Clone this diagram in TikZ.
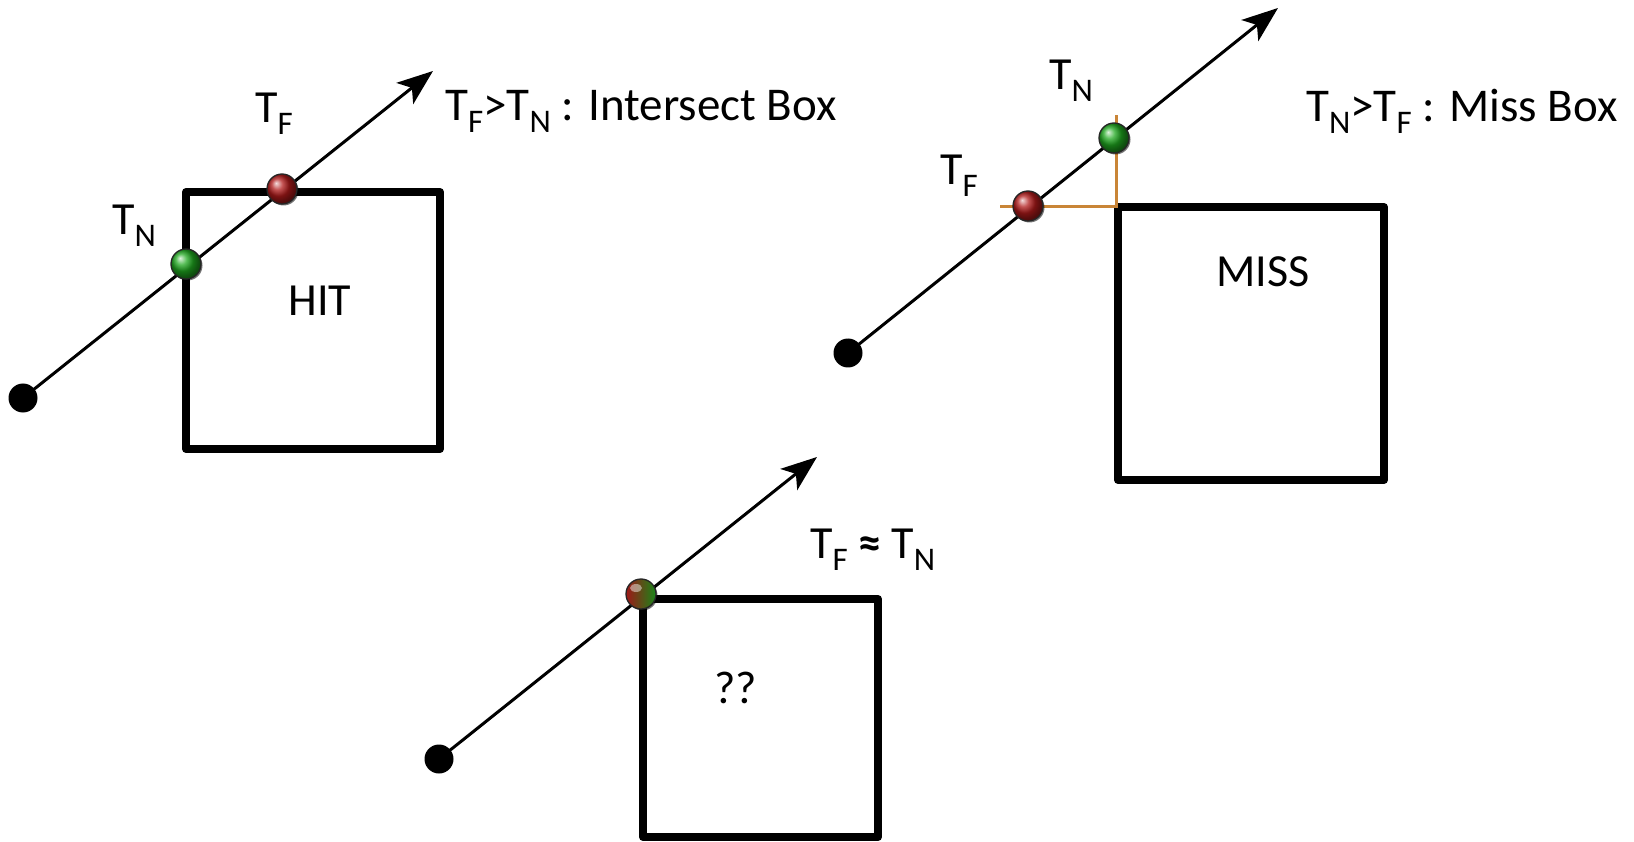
\documentclass[tikz,border=0pt]{standalone}
\usepackage{fontspec}
\setmainfont{Carlito}
\usetikzlibrary{arrows.meta,shadows}
\definecolor{hitred}{HTML}{B01A1A}
\definecolor{hitgreen}{HTML}{1FA81F}
\definecolor{guide}{HTML}{C98537}
\newcommand{\lowsub}[1]{\raisebox{-12pt}{\fontsize{33}{33}\selectfont #1}}
\tikzset{
  box/.style={draw=black, line width=8pt, line join=round},
  ray/.style={line width=3pt, -{Stealth[length=36pt,width=27pt,inset=9pt]}},
  origin/.style={circle, fill=black, inner sep=0pt, minimum size=29pt},
  ballbase/.style={circle, inner sep=0pt, minimum size=30pt, draw=black!85, line width=1.3pt,
     drop shadow={shadow xshift=1.5pt, shadow yshift=-1.5pt, opacity=0.55, fill=black}},
  redball/.style={ballbase, ball color=hitred},
  greenball/.style={ballbase, ball color=hitgreen},
  mixball/.style={ballbase, left color=hitred!90!black, right color=hitgreen!80!black},
  lbl/.style={font=\fontsize{46}{54}\selectfont, inner sep=0pt},
  caption/.style={font=\fontsize{47}{56}\selectfont, inner sep=0pt},
  guideline/.style={draw=guide, line width=3pt},
}
\begin{document}
\begin{tikzpicture}[x=1pt,y=-1pt]
\useasboundingbox (0,0) rectangle (1634,842);

% ---------- case 1: hit ----------
\draw[box] (186,192) rectangle (440,449);
\node[origin] (s1) at (23,398) {};
\coordinate (e1) at (433,71);
\draw[ray] (s1.center) -- (e1);
\node[greenball] (n1) at (186,264) {};
\node[redball] (f1) at (282,189) {};
\node[lbl, anchor=base west] (tf1) at (255,123) {T\lowsub{F}};
\node[lbl, anchor=base west] (tn1) at (112,235) {T\lowsub{N}};
\node[lbl, anchor=base] (hit) at (320,316) {HIT};
\node[caption, anchor=base west] (c1) at (445,121) {T\lowsub{F}>T\lowsub{N} : Intersect Box};

% ---------- case 2: miss ----------
\draw[box] (1118,207) rectangle (1384,480);
\coordinate (g0) at (1000,207);
\coordinate (g1) at (1116,207);
\coordinate (g2) at (1116,115);
\draw[guideline] (g0) -- (g1) -- (g2);
\node[origin] (s2) at (848,353) {};
\coordinate (e2) at (1278,8);
\draw[ray] (s2.center) -- (e2);
\node[redball] (f2) at (1028,206) {};
\node[greenball] (n2) at (1114,138) {};
\node[lbl, anchor=base west] (tn2) at (1049,90) {T\lowsub{N}};
\node[lbl, anchor=base west] (tf2) at (940,185) {T\lowsub{F}};
\node[lbl, anchor=base] (miss) at (1263,287) {MISS};
\node[caption, anchor=base west] (c2) at (1306,122) {T\lowsub{N}>T\lowsub{F} : Miss Box};

% ---------- case 3: grazing ----------
\draw[box] (643,599) rectangle (878,837);
\node[origin] (s3) at (439,759) {};
\coordinate (e3) at (817,457);
\draw[ray] (s3.center) -- (e3);
\node[mixball] (m3) at (641,594) {};
\fill[white, opacity=0.45] (636,588) ellipse [x radius=6pt, y radius=4pt];
\node[lbl, anchor=base] (q3) at (736,703) {??};
\node[lbl, anchor=base west] (c3) at (810,558) {T\lowsub{F} \textbf{≈} T\lowsub{N}};
\end{tikzpicture}
\end{document}
